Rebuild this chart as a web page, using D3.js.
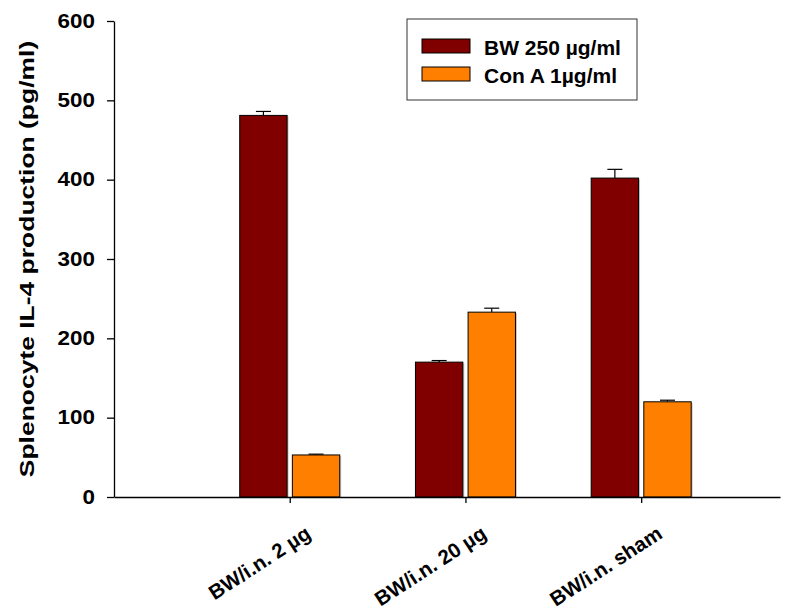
<!DOCTYPE html>
<html>
<head>
<meta charset="utf-8">
<script src="https://cdn.jsdelivr.net/npm/d3@7"></script>
<style>
	body { margin: 0; background: #fff; }
	text { font-family: 'Liberation Sans', Arial, sans-serif; font-weight: bold; }
</style>
</head>
<body>
<div id="chart"></div>
<script>
// data
const categories = ['BW/i.n. 2 µg', 'BW/i.n. 20 µg', 'BW/i.n. sham']
const seriesNames = ['BW 250 µg/ml', 'Con A 1µg/ml']
const seriesColors = ['#800000', '#ff8000']
const bwValues = [481, 170, 402]
const bwErrors = [5, 2, 11]
const conAValues = [53, 233, 120]
const conAErrors = [1, 5, 2]
const yTicks = [0, 100, 200, 300, 400, 500, 600]

const width = 811
const height = 610

const svg = d3
	.select('#chart')
	.append('svg')
	.attr('width', width)
	.attr('height', height)

const y = d3.scaleLinear().domain([0, 600]).range([497, 21])
// group index on x: groups sit at 1, 2, 3
const x = d3.scaleLinear().domain([0, 3.79]).range([114, 780])
const inner = d3.scaleBand().domain(seriesNames).range([-50, 50]).paddingInner(0.1)

const rows = []
categories.forEach((c, i) => {
	rows.push({ cat: i + 1, s: seriesNames[0], v: bwValues[i], e: bwErrors[i], color: seriesColors[0] })
	rows.push({ cat: i + 1, s: seriesNames[1], v: conAValues[i], e: conAErrors[i], color: seriesColors[1] })
})

// bar shadows
svg.append('g')
	.selectAll('rect')
	.data(rows)
	.join('rect')
	.attr('x', d => x(d.cat) + inner(d.s) + 1.5)
	.attr('y', d => y(d.v) + 1)
	.attr('width', inner.bandwidth())
	.attr('height', d => y(0) - y(d.v) - 1)
	.attr('fill', '#c8c8c8')

// error bars (upper only)
const err = svg.append('g').attr('stroke', '#000').attr('stroke-width', 1.2)
err.selectAll('line.v')
	.data(rows)
	.join('line')
	.attr('class', 'v')
	.attr('x1', d => x(d.cat) + inner(d.s) + inner.bandwidth() / 2)
	.attr('x2', d => x(d.cat) + inner(d.s) + inner.bandwidth() / 2)
	.attr('y1', d => y(d.v))
	.attr('y2', d => y(d.v + d.e))
err.selectAll('line.c')
	.data(rows)
	.join('line')
	.attr('class', 'c')
	.attr('x1', d => x(d.cat) + inner(d.s) + inner.bandwidth() / 2 - 7.5)
	.attr('x2', d => x(d.cat) + inner(d.s) + inner.bandwidth() / 2 + 7.5)
	.attr('y1', d => y(d.v + d.e))
	.attr('y2', d => y(d.v + d.e))

// bars
svg.append('g')
	.attr('stroke', '#000')
	.attr('stroke-width', 1)
	.selectAll('rect')
	.data(rows)
	.join('rect')
	.attr('x', d => x(d.cat) + inner(d.s))
	.attr('y', d => y(d.v))
	.attr('width', inner.bandwidth())
	.attr('height', d => y(0) - y(d.v))
	.attr('fill', d => d.color)

// axes
const yAxis = svg.append('g')
	.attr('transform', `translate(${x(0)},0)`)
	.call(d3.axisLeft(y).tickValues(yTicks).tickSize(7).tickPadding(12).tickSizeOuter(0))
// the original's labels are a bit wider than plain Arial bold
yAxis.selectAll('text')
	.attr('font-size', 19.5)
	.attr('fill', '#000')
	.style('font-family', null)
	.attr('x', 0)
	.attr('transform', 'translate(-19,0) scale(1.15,1)')
yAxis.selectAll('line, path').attr('stroke', '#000').attr('stroke-width', 1.3)

const xAxis = svg.append('g')
	.attr('transform', `translate(0,${y(0)})`)
	.call(d3.axisBottom(x).tickValues([1, 2, 3]).tickFormat(d => categories[d - 1]).tickSize(6).tickSizeOuter(0))
xAxis.selectAll('line, path').attr('stroke', '#000').attr('stroke-width', 1.3)
xAxis.selectAll('text')
	.attr('font-size', 20.5)
	.attr('fill', '#000')
	.style('font-family', null)
	.attr('text-anchor', 'end')
	.attr('dy', 0)
	.attr('y', 0)
	.attr('transform', 'translate(22,40) rotate(-33)')

// y title
svg.append('text')
	.attr('transform', 'translate(33.5,259) rotate(-90) scale(1.26,1)')
	.attr('text-anchor', 'middle')
	.attr('font-size', 21)
	.text('Splenocyte IL-4 production (pg/ml)')

// legend
const legend = svg.append('g')
legend.append('rect')
	.attr('x', 407).attr('y', 19).attr('width', 230).attr('height', 81)
	.attr('fill', '#fff').attr('stroke', '#333').attr('stroke-width', 1)
const item = legend.selectAll('g')
	.data(seriesNames)
	.join('g')
	.attr('transform', (d, i) => `translate(422,${39 + i * 28})`)
item.append('rect')
	.attr('width', 48).attr('height', 14)
	.attr('fill', (d, i) => seriesColors[i])
	.attr('stroke', '#000')
item.append('text')
	.attr('transform', 'translate(62,15.5) scale(1.05,1)')
	.attr('font-size', 20)
	.text(d => d)
</script>
</body>
</html>
